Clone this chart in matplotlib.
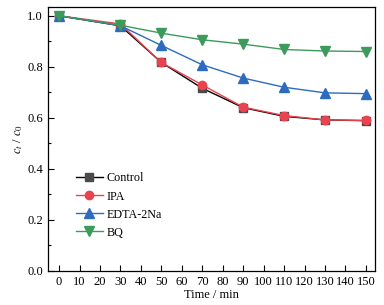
import numpy as np
import matplotlib
matplotlib.use("Agg")
import matplotlib.pyplot as plt
from matplotlib.ticker import MultipleLocator

plt.rcParams['font.family'] = ['Liberation Serif', 'DejaVu Serif']
plt.rcParams['mathtext.fontset'] = 'stix'

# data
time = [0, 30, 50, 70, 90, 110, 130, 150]
control = [1.0, 0.961, 0.817, 0.716, 0.640, 0.606, 0.592, 0.589]
ipa = [1.0, 0.968, 0.817, 0.729, 0.642, 0.609, 0.592, 0.590]
edta = [1.0, 0.961, 0.884, 0.808, 0.756, 0.720, 0.698, 0.695]
bq = [1.0, 0.963, 0.932, 0.906, 0.889, 0.868, 0.862, 0.860]

fig = plt.figure(figsize=(3.84, 3.05), dpi=100)
ax = fig.add_axes([0.125, 0.1115, 0.852, 0.866])

ms = 6
ax.plot(time, control, '-s', color='black', mfc='#4a4a4a', mec='#4a4a4a', ms=ms - 0.5, lw=1.0, label='Control')
ax.plot(time, ipa, '-o', color='#e8434f', ms=ms, lw=1.0, label='IPA')
ax.plot(time, edta, '-^', color='#2c6bbf', ms=ms + 0.5, lw=1.0, label='EDTA-2Na')
ax.plot(time, bq, '-v', color='#3c9a5c', ms=ms + 0.5, lw=1.0, label='BQ')

ax.set_xlim(-5.4, 154.5)
ax.set_ylim(0, 1.035)
ax.xaxis.set_major_locator(MultipleLocator(10))
ax.yaxis.set_major_locator(MultipleLocator(0.2))
ax.yaxis.set_minor_locator(MultipleLocator(0.1))
ax.yaxis.set_major_formatter(plt.FormatStrFormatter('%.1f'))
ax.tick_params(direction='in', labelsize=9, length=4, width=0.8, top=False, right=False)
ax.tick_params(which='minor', direction='in', length=2.5, width=0.8)
for s in ax.spines.values():
    s.set_linewidth(0.9)

ax.set_xlabel('Time / min', fontsize=9, labelpad=1)
ax.set_ylabel('$c_t$ / $c_0$', fontsize=9, labelpad=2)

ax.legend(loc='upper left', bbox_to_anchor=(0.06, 0.405), frameon=False, fontsize=8.7,
          handlelength=2.2, labelspacing=0.5, handletextpad=0.3, borderpad=0.2)

plt.savefig("out.png", dpi=100)
